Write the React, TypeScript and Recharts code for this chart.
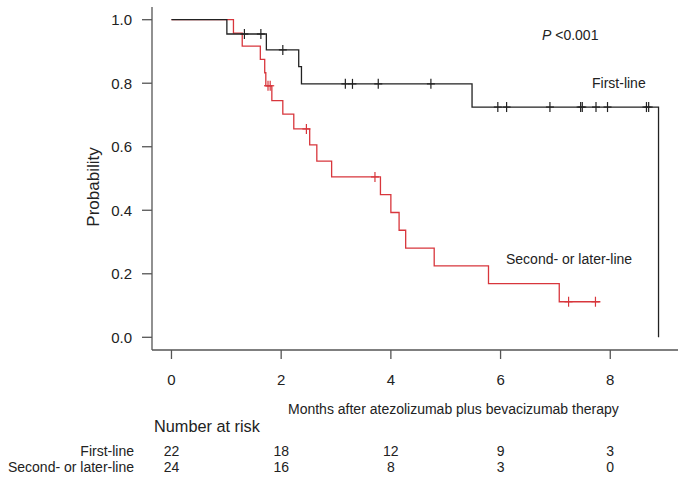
import { ComposedChart, Line, Scatter, XAxis, YAxis } from "recharts";

// Kaplan-Meier steps (months, survival probability)
const firstTimes = [0, 1.01, 1.73, 2.32, 2.37, 5.48, 8.88];
const firstSurv = [1.0, 0.955, 0.905, 0.852, 0.798, 0.725, 0.0];
const firstCensor = [1.33, 1.63, 2.03, 3.17, 3.3, 3.77, 4.73, 5.95, 6.11, 6.9, 7.46, 7.49, 7.74, 7.95, 8.66, 8.7];

const secondTimes = [0, 1.13, 1.29, 1.62, 1.7, 1.72, 1.83, 2.03, 2.23, 2.52, 2.65, 2.92, 3.81, 4.0, 4.15, 4.27, 4.79, 5.78, 7.07, 7.82];
const secondSurv = [1.0, 0.958, 0.917, 0.875, 0.833, 0.792, 0.745, 0.703, 0.656, 0.606, 0.555, 0.505, 0.449, 0.393, 0.337, 0.281, 0.225, 0.169, 0.112, 0.112];
const secondCensor = [1.76, 1.8, 2.46, 3.71, 7.24, 7.73];

const monthTicks = [0, 2, 4, 6, 8];
const probTicks = [0, 0.2, 0.4, 0.6, 0.8, 1.0];
const riskFirst = [22, 18, 12, 9, 3];
const riskSecond = [24, 16, 8, 3, 0];

const ROJO = "#d8363c";
const NEGRO = "#222";
const EJE = "#555";
const fuente = "'Liberation Sans', Arial, Helvetica, sans-serif";

const curva = (t: number[], s: number[]) => t.map((x, i) => ({ t: x, s: s[i] }));
const nivel = (t: number[], s: number[], x: number) => {
  let v = s[0];
  t.forEach((ti, i) => { if (ti <= x) v = s[i]; });
  return v;
};
const marcas = (c: number[], t: number[], s: number[]) => c.map((x) => ({ t: x, s: nivel(t, s, x) }));
// puntos invisibles para que los ejes de la tabla de riesgo tengan datos
const anclas = monthTicks.map((t) => ({ t, s: 0.5 }));

const Cruz = ({ cx, cy, color }: { cx?: number; cy?: number; color: string }) => {
  if (cx == null || cy == null) return null;
  return (
    <g stroke={color} strokeWidth={1.2}>
      <line x1={cx} y1={cy - 5} x2={cx} y2={cy + 5} />
      <line x1={cx - 4} y1={cy} x2={cx + 4} y2={cy} />
    </g>
  );
};

const dominio: [number, number] = [-0.355, 9.235];

export default function App() {
  const riesgo = (arr: number[]) => (v: number) => String(arr[monthTicks.indexOf(v)] ?? "");
  return (
    <div style={{ position: "absolute", left: 0, top: 0, width: 685, height: 484, background: "#fff", fontFamily: fuente }}>
      <ComposedChart width={685} height={484} margin={{ top: 7, right: 7, left: 92, bottom: 18 }}>
        <XAxis
          type="number" dataKey="t" domain={dominio} allowDataOverflow ticks={monthTicks}
          height={80} tickSize={9} tickMargin={15} stroke={EJE} strokeWidth={1.3}
          tick={{ fill: NEGRO, fontSize: 15 }}
        />
        <XAxis
          xAxisId="r1" type="number" dataKey="t" domain={dominio} allowDataOverflow ticks={monthTicks}
          height={20} tickSize={0} tickMargin={16} axisLine={false} tickLine={false}
          tick={{ fill: NEGRO, fontSize: 14 }} tickFormatter={riesgo(riskFirst)}
        />
        <XAxis
          xAxisId="r2" type="number" dataKey="t" domain={dominio} allowDataOverflow ticks={monthTicks}
          height={16} tickSize={0} tickMargin={12} axisLine={false} tickLine={false}
          tick={{ fill: NEGRO, fontSize: 14 }} tickFormatter={riesgo(riskSecond)}
        />
        <YAxis
          type="number" domain={[-0.04, 1.04]} allowDataOverflow ticks={probTicks} width={60}
          tickSize={10} tickMargin={10} stroke={EJE} strokeWidth={1.3}
          tick={{ fill: NEGRO, fontSize: 15 }} tickFormatter={(v: number) => v.toFixed(1)}
        />
        <Line xAxisId="r1" data={anclas} dataKey="s" stroke="none" dot={false} activeDot={false} legendType="none" isAnimationActive={false} />
        <Line xAxisId="r2" data={anclas} dataKey="s" stroke="none" dot={false} activeDot={false} legendType="none" isAnimationActive={false} />
        <Line data={curva(secondTimes, secondSurv)} dataKey="s" type="stepAfter" stroke={ROJO} strokeWidth={1.3} dot={false} activeDot={false} isAnimationActive={false} />
        <Line data={curva(firstTimes, firstSurv)} dataKey="s" type="stepAfter" stroke={NEGRO} strokeWidth={1.3} dot={false} activeDot={false} isAnimationActive={false} />
        <Scatter data={marcas(secondCensor, secondTimes, secondSurv)} dataKey="s" isAnimationActive={false} shape={(p: any) => <Cruz cx={p.cx} cy={p.cy} color={ROJO} />} />
        <Scatter data={marcas(firstCensor, firstTimes, firstSurv)} dataKey="s" isAnimationActive={false} shape={(p: any) => <Cruz cx={p.cx} cy={p.cy} color={NEGRO} />} />
      </ComposedChart>
      <svg width={685} height={484} style={{ position: "absolute", left: 0, top: 0, pointerEvents: "none" }} fontFamily={fuente} fill={NEGRO}>
        <text x={93} y={187} fontSize={17} textAnchor="middle" dominantBaseline="central" transform="rotate(-90 93 187)">Probability</text>
        <text x={542} y={35} fontSize={14} dominantBaseline="central"><tspan fontStyle="italic">P</tspan> &lt;0.001</text>
        <text x={592} y={83} fontSize={14} dominantBaseline="central">First-line</text>
        <text x={506} y={259} fontSize={14} dominantBaseline="central">Second- or later-line</text>
        <text x={288} y={409} fontSize={14} dominantBaseline="central">Months after atezolizumab plus bevacizumab therapy</text>
        <text x={154} y={426} fontSize={16.3} dominantBaseline="central">Number at risk</text>
        <text x={134} y={451} fontSize={14} textAnchor="end" dominantBaseline="central">First-line</text>
        <text x={134} y={467} fontSize={14} textAnchor="end" dominantBaseline="central">Second- or later-line</text>
      </svg>
    </div>
  );
}
